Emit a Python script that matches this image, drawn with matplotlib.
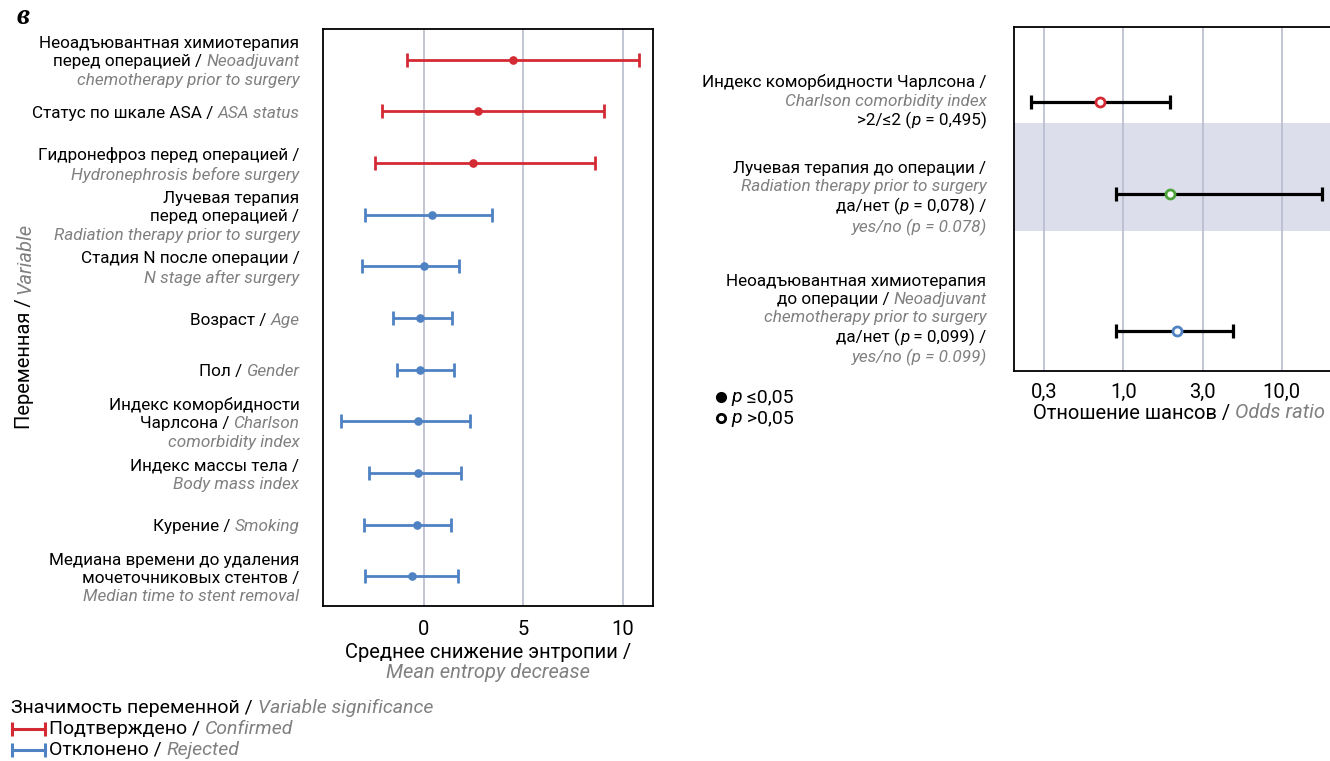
import numpy as np
import matplotlib.pyplot as plt
from matplotlib.offsetbox import TextArea, HPacker, VPacker, AnnotationBbox
from matplotlib.lines import Line2D

plt.rcParams['font.family'] = ['Roboto', 'DejaVu Sans']

RED = '#d42a33'
BLUE = '#4f82c3'
GREEN = '#4ca33a'
GRAY = '#808080'
GRID = '#b8bccd'
BAND = '#dcdfeb'
FS = 12.3       # подписи переменных
FS_AX = 14.5    # подписи осей и тики
FS_LEG = 14

# ---------- данные: среднее снижение энтропии (Boruta) ----------
ent_mean = [4.46, 2.72, 2.46, 0.44, 0.0, -0.19, -0.21, -0.27, -0.27, -0.36, -0.59]
ent_low = [-0.84, -2.10, -2.44, -2.93, -3.09, -1.56, -1.33, -4.13, -2.74, -3.01, -2.93]
ent_high = [10.78, 9.03, 8.61, 3.43, 1.79, 1.43, 1.54, 2.34, 1.87, 1.37, 1.73]
ent_status = ['confirmed'] * 3 + ['rejected'] * 8
ent_ticks = [0, 5, 10]

ent_labels = [
    [[('Неоадъювантная химиотерапия', 'ru')],
     [('перед операцией / ', 'ru'), ('Neoadjuvant', 'en')],
     [('chemotherapy prior to surgery', 'en')]],
    [[('Статус по шкале ASA / ', 'ru'), ('ASA status', 'en')]],
    [[('Гидронефроз перед операцией /', 'ru')],
     [('Hydronephrosis before surgery', 'en')]],
    [[('Лучевая терапия', 'ru')],
     [('перед операцией /', 'ru')],
     [('Radiation therapy prior to surgery', 'en')]],
    [[('Стадия N после операции /', 'ru')],
     [('N stage after surgery', 'en')]],
    [[('Возраст / ', 'ru'), ('Age', 'en')]],
    [[('Пол / ', 'ru'), ('Gender', 'en')]],
    [[('Индекс коморбидности', 'ru')],
     [('Чарлсона / ', 'ru'), ('Charlson', 'en')],
     [('comorbidity index', 'en')]],
    [[('Индекс массы тела /', 'ru')],
     [('Body mass index', 'en')]],
    [[('Курение / ', 'ru'), ('Smoking', 'en')]],
    [[('Медиана времени до удаления', 'ru')],
     [('мочеточниковых стентов /', 'ru')],
     [('Median time to stent removal', 'en')]],
]

# ---------- данные: отношение шансов ----------
or_value = [0.71, 1.97, 2.18]
or_low = [0.263, 0.895, 0.90]
or_high = [1.97, 17.9, 4.95]
or_colors = [RED, GREEN, BLUE]
or_ticks = [10 ** -0.5, 1.0, 10 ** 0.5, 10.0]
or_ticklabels = ['0,3', '1,0', '3,0', '10,0']

or_labels = [
    [[('Индекс коморбидности Чарлсона /', 'ru')],
     [('Charlson comorbidity index', 'en')],
     [('>2/≤2 (', 'ru'), ('p', 'p'), (' = 0,495)', 'ru')]],
    [[('Лучевая терапия до операции /', 'ru')],
     [('Radiation therapy prior to surgery', 'en')],
     [('да/нет (', 'ru'), ('p', 'p'), (' = 0,078) /', 'ru')],
     [('yes/no (p = 0.078)', 'en')]],
    [[('Неоадъювантная химиотерапия', 'ru')],
     [('до операции / ', 'ru'), ('Neoadjuvant', 'en')],
     [('chemotherapy prior to surgery', 'en')],
     [('да/нет (', 'ru'), ('p', 'p'), (' = 0,099) /', 'ru')],
     [('yes/no (p = 0.099)', 'en')]],
]

STYLES = {
    'ru': dict(color='black'),
    'en': dict(color=GRAY, style='italic'),
    'p': dict(color='black', style='italic'),
}


def rich_block(lines, fs=FS, align='right', sep=2.4):
    rows = []
    for line in lines:
        parts = [TextArea(s, textprops=dict(fontsize=fs, **STYLES[k])) for s, k in line]
        rows.append(HPacker(children=parts, align='baseline', pad=0, sep=0))
    return VPacker(children=rows, align=align, pad=0, sep=sep)


def place(ax, box, xy, xycoords, offset=(0, 0), alignment=(1, 0.5)):
    ab = AnnotationBbox(box, xy, xycoords=xycoords, xybox=offset,
                        boxcoords='offset points', box_alignment=alignment,
                        frameon=False, pad=0, annotation_clip=False)
    ax.add_artist(ab)
    return ab


fig = plt.figure(figsize=(13.3, 7.61), dpi=100)

# ================= левая панель =================
ax1 = fig.add_axes([323 / 1330, 1 - 605.7 / 761, 330 / 1330, 576.4 / 761])
ypos = np.arange(len(ent_mean))
for i in ypos:
    c = RED if ent_status[i] == 'confirmed' else BLUE
    ax1.errorbar(ent_mean[i], i,
                 xerr=[[ent_mean[i] - ent_low[i]], [ent_high[i] - ent_mean[i]]],
                 fmt='o', color=c, ms=5.2, lw=2.0, capsize=4.8, capthick=2.0, zorder=3)
    place(ax1, rich_block(ent_labels[i]), (0, i), ax1.get_yaxis_transform(), offset=(-17, -1.5))

ax1.set_xlim(-5.05, 11.5)
ax1.set_ylim(10.57, -0.59)
ax1.set_xticks(ent_ticks)
ax1.set_xticklabels([str(t) for t in ent_ticks])
ax1.set_yticks([])
ax1.tick_params(axis='x', length=0, pad=10, labelsize=FS_AX)
ax1.grid(axis='x', color=GRID, lw=1.2, zorder=0)
ax1.set_axisbelow(True)
for sp in ax1.spines.values():
    sp.set_linewidth(1.3)

place(ax1, rich_block([[('Среднее снижение энтропии /', 'ru')],
                       [('Mean entropy decrease', 'en')]], fs=FS_AX, align='center', sep=0.5),
      (0.5, 0), 'axes fraction', offset=(0, -27), alignment=(0.5, 1))

# подпись оси Y из двух стилей
t1 = fig.text(25 / 1330, 1 - 429 / 761, 'Переменная /', rotation=90,
              ha='center', va='bottom', fontsize=FS_AX)
ax1.annotate('Variable', xy=(0.5, 1), xycoords=t1, xytext=(0, 3),
             textcoords='offset points', rotation=90, ha='center', va='bottom',
             fontsize=FS_AX, color=GRAY, style='italic', annotation_clip=False)

fig.text(23 / 1330, 1 - 17 / 761, 'в', fontsize=21, family='Liberation Serif',
         weight='bold', style='italic', ha='center', va='center')

# легенда значимости
leg = rich_block([[('Значимость переменной / ', 'ru'), ('Variable significance', 'en')]],
                 fs=FS_LEG, align='left')
place(ax1, leg, (11 / 1330, 1 - 708 / 761), fig.transFigure, alignment=(0, 0.5))
for yy, col, ru, en in [(729, RED, 'Подтверждено / ', 'Confirmed'),
                        (750, BLUE, 'Отклонено / ', 'Rejected')]:
    fy = 1 - yy / 761
    fig.add_artist(Line2D([12 / 1330, 45 / 1330], [fy, fy], color=col, lw=2.2,
                          marker='|', ms=10, mew=2.2, transform=fig.transFigure))
    place(ax1, rich_block([[(ru, 'ru'), (en, 'en')]], fs=FS_LEG, align='left'),
          (49 / 1330, fy), fig.transFigure, alignment=(0, 0.5))

# ================= правая панель =================
ax2 = fig.add_axes([1014.3 / 1330, 1 - 370.7 / 761, 330.7 / 1330, 343.4 / 761])
or_rows = [1.0, 2.0, 3.5]
label_rows = [0.995, 2.05, 3.38]
ax2.axhspan(1.23, 2.404, color=BAND, lw=0, zorder=0)
for i, y in enumerate(or_rows):
    ax2.errorbar(or_value[i], y,
                 xerr=[[or_value[i] - or_low[i]], [or_high[i] - or_value[i]]],
                 fmt='none', ecolor='black', lw=2.3, capsize=4.8, capthick=2.3, zorder=3)
    ax2.plot(or_value[i], y, 'o', ms=6.5, mfc='white', mec=or_colors[i], mew=2, zorder=4)
    place(ax2, rich_block(or_labels[i]), (0, label_rows[i]),
          ax2.get_yaxis_transform(), offset=(-20, 0))

ax2.set_xscale('log')
ax2.set_xlim(10 ** -0.687, 10 ** 1.398)
ax2.set_ylim(3.934, 0.18)
ax2.set_xticks(or_ticks)
ax2.set_xticklabels(or_ticklabels)
ax2.xaxis.set_minor_locator(plt.NullLocator())
ax2.set_yticks([])
ax2.tick_params(axis='x', length=0, pad=9, labelsize=FS_AX)
ax2.grid(axis='x', color=GRID, lw=1.2, zorder=1)
ax2.set_axisbelow(True)
for sp in ax2.spines.values():
    sp.set_linewidth(1.3)

place(ax2, rich_block([[('Отношение шансов / ', 'ru'), ('Odds ratio', 'en')]],
                      fs=FS_AX, align='center'),
      (1179 / 1330, 1 - 413 / 761), fig.transFigure, alignment=(0.5, 0.5))

# легенда p
for yy, face, sym, val in [(397, 'black', '≤', '0,05'), (418, 'white', '>', '0,05')]:
    fy = 1 - yy / 761
    fig.add_artist(Line2D([721 / 1330], [fy], marker='o', ms=6, mfc=face, mec='black',
                          mew=2, ls='none', transform=fig.transFigure))
    place(ax2, rich_block([[('p', 'p'), (' ' + sym + val, 'ru')]], fs=FS_LEG, align='left'),
          (731 / 1330, fy), fig.transFigure, alignment=(0, 0.5))

fig.savefig('out.png', dpi=100)
